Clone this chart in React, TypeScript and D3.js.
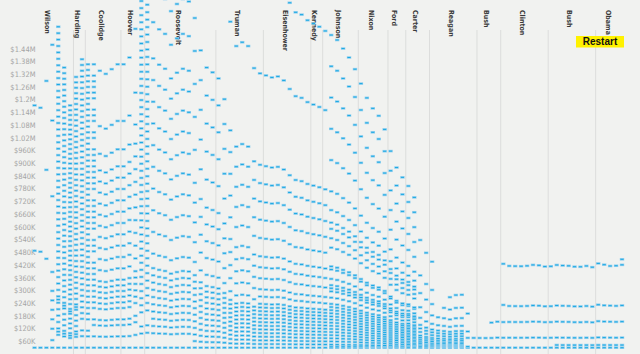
import React from "react";
import * as d3 from "d3";

// consumer price index, 1914 .. 2013 (used to restate every bracket in 2013 dollars)
const firstYear = 1914;
const cpi = [
  10.0, 10.1, 10.9, 12.8, 15.1, 17.3, 20.0, 17.9, 16.8, 17.1,
  17.1, 17.5, 17.7, 17.4, 17.1, 17.1, 16.7, 15.2, 13.7, 13.0,
  13.4, 13.7, 13.9, 14.4, 14.1, 13.9, 14.0, 14.7, 16.3, 17.3,
  17.6, 18.0, 19.5, 22.3, 24.1, 23.8, 24.1, 26.0, 26.5, 26.7,
  26.9, 26.8, 27.2, 28.1, 28.9, 29.1, 29.6, 29.9, 30.2, 30.6,
  31.0, 31.5, 32.4, 33.4, 34.8, 36.7, 38.8, 40.5, 41.8, 44.4,
  49.3, 53.8, 56.9, 60.6, 65.2, 72.6, 82.4, 90.9, 96.5, 99.6,
  103.9, 107.6, 109.6, 113.6, 118.3, 124.0, 130.7, 136.2, 140.3, 144.5,
  148.2, 152.4, 156.9, 160.5, 163.0, 166.6, 172.2, 177.1, 179.9, 184.0,
  188.9, 195.3, 201.6, 207.3, 215.3, 214.5, 218.1, 224.9, 229.6, 233.0,
];

// bracket thresholds in nominal $K (head of household where it exists)
const b1913 = [0, 20, 50, 75, 100, 250, 500];
const b1916 = [0, 20, 40, 60, 80, 100, 150, 200, 250, 300, 500, 1000, 1500, 2000];
const b1917 = [0, 2, 5, 7.5, 10, 12.5, 15, 20, 40, 60, 80, 100, 150, 200, 250, 300, 500, 750, 1000, 1500, 2000];
const b1918 = [0, 4, 5, 6, 8, 10, 12, 14, 15, 16, 18, 20, 22, 24, 26, 28, 30, 32, 34, 36, 38, 40, 42, 44, 46, 48, 50,
  52, 54, 56, 58, 60, 62, 64, 66, 68, 70, 72, 74, 76, 78, 80, 82, 84, 86, 88, 90, 92, 94, 96, 98, 100, 150, 200, 300, 500, 1000];
const b1922 = [0, 4, 6, 10, 12, 14, 16, 18, 20, 22, 24, 26, 28, 30, 32, 34, 36, 38, 40, 42, 44, 46, 48, 50, 52, 54, 56,
  58, 60, 62, 64, 66, 68, 70, 72, 74, 76, 78, 80, 82, 84, 86, 88, 90, 92, 94, 96, 98, 100, 200];
const b1924 = [0, 4, 8, 10, 14, 16, 18, 20, 22, 24, 26, 28, 30, 34, 36, 38, 42, 44, 46, 48, 50, 52, 56, 58, 60, 62, 64,
  66, 68, 70, 74, 76, 80, 82, 84, 88, 90, 92, 94, 96, 100, 200, 300, 500];
const b1925 = [0, 4, 8, 10, 14, 16, 18, 20, 22, 24, 28, 32, 36, 40, 44, 48, 52, 56, 60, 64, 70, 80, 100];
const b1932 = [0, 4, 6, 10, 12, 14, 16, 18, 20, 22, 24, 26, 28, 30, 32, 34, 36, 38, 40, 42, 44, 46, 48, 50, 52, 54, 56,
  58, 60, 62, 64, 66, 68, 70, 72, 74, 76, 78, 80, 82, 84, 86, 88, 90, 92, 94, 96, 98, 100, 150, 200, 300, 400, 500, 750, 1000];
const b1934 = [0, 4, 6, 8, 10, 12, 14, 16, 18, 20, 22, 26, 32, 38, 44, 50, 56, 62, 68, 74, 80, 90, 100, 150, 200, 250,
  300, 400, 500, 750, 1000];
const b1936 = [0, 4, 6, 8, 10, 12, 14, 16, 18, 20, 22, 26, 32, 38, 44, 50, 56, 62, 68, 74, 80, 90, 100, 150, 200, 250,
  300, 400, 500, 750, 1000, 2000, 5000];
const b1941 = [0, 2, 4, 6, 8, 10, 12, 14, 16, 18, 20, 22, 26, 32, 38, 44, 50, 60, 70, 80, 90, 100, 150, 200, 250, 300,
  400, 500, 750, 1000, 2000, 5000];
const b1942 = [0, 2, 4, 6, 8, 10, 12, 14, 16, 18, 20, 22, 26, 32, 38, 44, 50, 60, 70, 80, 90, 100, 150, 200];
const b1952 = [0, 2, 4, 6, 8, 10, 12, 14, 16, 18, 20, 22, 24, 28, 32, 38, 44, 50, 60, 70, 80, 90, 100, 150, 200, 300];
const b1964 = [0, 1, 2, 4, 6, 8, 10, 12, 14, 16, 18, 20, 22, 24, 26, 28, 32, 36, 38, 40, 44, 50, 52, 64, 70, 76, 80, 88,
  100, 120, 140, 160, 180, 200];
const b1977 = [0, 2.2, 3.2, 4.2, 6.2, 8.2, 10.2, 12.2, 14.2, 16.2, 18.2, 20.2, 22.2, 24.2, 26.2, 28.2, 30.2, 34.2, 38.2,
  40.2, 42.2, 46.2, 52.2, 54.2, 66.2, 72.2, 78.2, 82.2, 90.2, 102.2, 122.2, 142.2, 162.2, 182.2, 202.2];
const b1979 = [0, 2.3, 4.4, 6.5, 8.7, 11.8, 15, 18.2, 23.5, 28.8, 34.1, 44.7, 60.6, 81.8, 108.3, 161.3];
const b1982 = [0, 2.3, 4.4, 6.5, 8.7, 11.8, 15, 18.2, 23.5, 28.8, 34.1, 44.7, 60.6];
const b1983 = [0, 2.3, 4.4, 6.5, 8.7, 11.8, 15, 18.2, 23.5, 28.8, 34.1, 44.7, 60.6, 81.8];
const b1984 = [0, 2.3, 4.4, 6.5, 8.7, 11.8, 15, 18.2, 23.5, 28.8, 34.1, 44.7, 60.6, 81.8, 108.3];
const b1985 = [0, 2.48, 4.75, 7.01, 9.39, 12.73, 16.19, 19.64, 25.36, 31.08, 36.8, 48.24, 65.39, 88.27, 116.87];
const b1986 = [0, 2.54, 4.86, 7.17, 9.62, 13.04, 16.58, 20.11, 25.98, 31.83, 37.7, 49.41, 66.97, 90.41, 119.7];
const b1987 = [0, 2.5, 23, 38, 80];
const b1988 = [0, 23.9];
const b1989 = [0, 24.85];
const b1990 = [0, 26.05];
const b1991 = [0, 27.3, 70.45];
const b1992 = [0, 29.15, 75.3];
const b1993 = [0, 29.6, 76.4, 127.5, 250];
const b1994 = [0, 30.5, 78.7, 127.5, 250];
const b1995 = [0, 31.25, 80.75, 130.8, 256.5];
const b1996 = [0, 32.15, 83.05, 134.5, 263.75];
const b1997 = [0, 33.05, 85.35, 138.2, 271.05];
const b1998 = [0, 33.95, 87.7, 142, 278.45];
const b1999 = [0, 34.55, 89.15, 144.4, 283.15];
const b2000 = [0, 35.15, 90.8, 147.05, 288.35];
const b2001 = [0, 36.25, 93.65, 151.65, 297.35];
const b2002 = [0, 10, 37.45, 96.7, 156.6, 307.05];
const b2003 = [0, 10, 38.05, 98.25, 159.1, 311.95];
const b2004 = [0, 10.2, 38.9, 100.5, 162.7, 319.1];
const b2005 = [0, 10.45, 39.8, 102.8, 166.45, 326.45];
const b2006 = [0, 10.75, 41.05, 106, 171.65, 336.55];
const b2007 = [0, 11.2, 42.65, 110.1, 178.35, 349.7];
const b2008 = [0, 11.45, 43.65, 112.65, 182.4, 357.7];
const b2009 = [0, 11.95, 45.5, 117.45, 190.2, 372.95];
const b2010 = [0, 11.95, 45.55, 117.65, 190.55, 373.65];
const b2011 = [0, 12.25, 46.7, 120.5, 195.2, 379.15];
const b2012 = [0, 12.4, 47.35, 122.3, 198.05, 388.35];
const b2013 = [0, 12.75, 48.6, 125.45, 203.15, 398.35, 425];

// first year each schedule applies
const schedules: [number, number[]][] = [
  [1913, b1913], [1916, b1916], [1917, b1917], [1918, b1918], [1922, b1922], [1924, b1924], [1925, b1925],
  [1932, b1932], [1934, b1934], [1936, b1936], [1941, b1941], [1942, b1942], [1952, b1952], [1964, b1964],
  [1977, b1977], [1979, b1979], [1982, b1982], [1983, b1983], [1984, b1984], [1985, b1985], [1986, b1986],
  [1987, b1987], [1988, b1988], [1989, b1989], [1990, b1990], [1991, b1991], [1992, b1992], [1993, b1993],
  [1994, b1994], [1995, b1995], [1996, b1996], [1997, b1997], [1998, b1998], [1999, b1999], [2000, b2000],
  [2001, b2001], [2002, b2002], [2003, b2003], [2004, b2004], [2005, b2005], [2006, b2006], [2007, b2007],
  [2008, b2008], [2009, b2009], [2010, b2010], [2011, b2011], [2012, b2012], [2013, b2013],
];

const presidents = ["Wilson", "Harding", "Coolidge", "Hoover", "Roosevelt", "Truman", "Eisenhower", "Kennedy",
  "Johnson", "Nixon", "Ford", "Carter", "Reagan", "Bush", "Clinton", "Bush", "Obama"];
const termStarts = [1913, 1921, 1923, 1929, 1933, 1945, 1953, 1961, 1963, 1969, 1974, 1977, 1981, 1989, 1993, 2001, 2009];
const lastTermEnd = 2014;

const tickValues = [60000, 120000, 180000, 240000, 300000, 360000, 420000, 480000, 540000, 600000, 660000, 720000,
  780000, 840000, 900000, 960000, 1020000, 1080000, 1140000, 1200000, 1260000, 1320000, 1380000, 1440000];

const W = 640;
const H = 354;
const narrow = "'Liberation Sans Narrow', 'DejaVu Sans Condensed', sans-serif";

const years = cpi.map((_, i) => firstYear + i);
const x = d3.scaleLinear().domain([1913, 2013]).range([28.6, 622]);
const y = d3.scaleLinear().domain([0, 1000000]).range([347.7, 139.7]);
const yAxis = d3.scaleLinear().domain([60000, 1440000]).range([341.7, 49]);

const schedule = (year) => {
  let list = schedules[0][1];
  schedules.forEach(([start, b]) => { if (start <= year) list = b; });
  return list;
};

const dashes = years.flatMap((year, i) =>
  schedule(year)
    .map((k) => ({ year, value: (k * 1000 * cpi[cpi.length - 1]) / cpi[i] }))
    .filter((d) => y(d.value) > -3)
);

const fmt = (v) => (v >= 1000000 ? `$${v / 1000000}M` : `$${v / 1000}K`);
const lineX = (yr) => x(yr) - 2.6;

export default function App() {
  return (
    <div style={{ position: "absolute", left: 0, top: 0 }}>
      <svg width={W} height={H} style={{ display: "block" }}>
        <rect width={W} height={H} fill="#f1f2f0" />
        {termStarts.slice(1).map((yr, i) => (
          <line key={"l" + i} x1={lineX(yr)} x2={lineX(yr)} y1={30} y2={H} stroke="#dcdddc" strokeWidth={1} />
        ))}
        {presidents.map((name, i) => {
          const end = i < termStarts.length - 1 ? termStarts[i + 1] : lastTermEnd;
          const cx = (lineX(termStarts[i]) + lineX(end)) / 2 - 2.5;
          return (
            <text key={"p" + i} transform={`translate(${cx},10) rotate(90)`} dominantBaseline="central"
              fontFamily={narrow} fontSize={7} fontWeight="bold" fill="#3a3a3a">{name}</text>
          );
        })}
        {tickValues.map((v) => (
          <text key={v} x={35.5} y={yAxis(v)} textAnchor="end" dominantBaseline="central"
            fontFamily={narrow} fontSize={7.5} fill="#a5a5a5">{fmt(v)}</text>
        ))}
        <g>
          {dashes.map((d, i) => (
            <g key={i}>
              <rect x={x(d.year) - 2.2} y={y(d.value) - 1.3} width={4.4} height={2.6} fill="#94d0ef" />
              <rect x={x(d.year) - 1.6} y={y(d.value) - 0.5} width={3.2} height={1} fill="#1aa9e2" />
            </g>
          ))}
        </g>
        <rect x={576} y={36} width={48} height={11.5} fill="#fff200" />
        <text x={600} y={45} textAnchor="middle" fontFamily="'Liberation Sans', Arial, sans-serif" fontSize={10}
          fontWeight="bold" fill="#111">Restart</text>
      </svg>
    </div>
  );
}
